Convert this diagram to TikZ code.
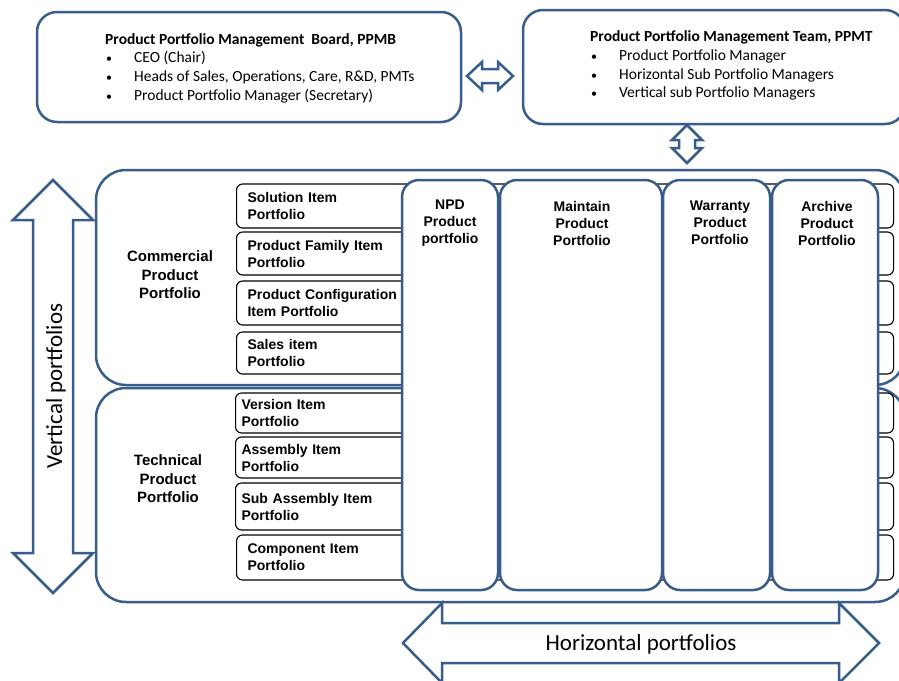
\documentclass[tikz,border=0pt]{standalone}
\usepackage{fontspec}
\setmainfont{Carlito}
\newfontfamily\arialfont{Liberation Sans}
\usetikzlibrary{calc}
\definecolor{pp_blue}{RGB}{56, 93, 138}
\tikzstyle{bb}=[rectangle,rounded corners=20pt,draw=pp_blue,fill=white,
  line width=2.5pt,inner sep=0pt]
\tikzstyle{ob}=[bb,rounded corners=30pt,minimum width=809pt]
\tikzstyle{ib}=[rectangle,rounded corners=6pt,draw=black,fill=white,
  line width=1.1pt,anchor=west,text width=635pt,inner xsep=11pt,inner ysep=0pt,
  align=left,font={\arialfont\bfseries\fontsize{14}{17}\selectfont}]
\tikzstyle{cb}=[bb,rounded corners=17pt,minimum height=410pt]
\tikzstyle{cl}=[align=center,inner sep=0pt,
  font={\arialfont\bfseries\fontsize{14}{17}\selectfont}]
\tikzstyle{gl}=[align=center,inner sep=0pt,
  font={\arialfont\bfseries\fontsize{15}{18.5}\selectfont}]
\tikzstyle{ba}=[draw=pp_blue,fill=white,line width=2.5pt,line join=miter]
\tikzstyle{tx}=[anchor=west,inner sep=0pt,font={\fontsize{15.5}{18.7}\selectfont}]
\newcommand{\bul}{\makebox[29pt][l]{\hspace{1pt}{\fontsize{12}{12}\selectfont•}}}

\begin{document}
\begin{tikzpicture}[x=1pt,y=-1pt]
        \useasboundingbox (0,0) rectangle (899,680);
        \clip (0,0) rectangle (899,680);
        % management boxes
        \node[style=bb,minimum width=424pt,minimum height=110pt] (ppmb) at (249,67) {};
        \node[style=bb,minimum width=382pt,minimum height=114pt] (ppmt) at (714,67) {};
        \node[style=tx] (ppmbt) at (105,68.5) {\begin{tabular}{@{}l@{}}
          \textbf{Product Portfolio Management\ \ Board, PPMB}\\
          \bul CEO (Chair)\\
          \bul Heads of Sales, Operations, Care, R\&D, PMTs\\
          \bul Product Portfolio Manager (Secretary)\end{tabular}};
        \node[style=tx] (ppmtt) at (590,66) {\begin{tabular}{@{}l@{}}
          \textbf{Product Portfolio Management Team, PPMT}\\
          \bul Product Portfolio Manager\\
          \bul Horizontal Sub Portfolio Managers\\
          \bul Vertical sub Portfolio Managers\end{tabular}};
        \draw[style=ba] (467,76) -- (482,62) -- (482,69) -- (498,69) -- (498,62)
          -- (513,76) -- (498,90) -- (498,83) -- (482,83) -- (482,90) -- cycle;
        \draw[style=ba] (687,125) -- (702,140) -- (695,140) -- (695,148) -- (702,148)
          -- (687,163) -- (672,148) -- (679,148) -- (679,140) -- (672,140) -- cycle;
        % vertical portfolios
        \node[style=ob,minimum height=215pt] (com) at (500.5,277.5) {};
        \node[style=ob,minimum height=214pt] (tec) at (500.5,495) {};
        \node[style=gl] (coml) at (170,275) {Commercial\\Product\\Portfolio};
        \node[style=gl] (tecl) at (168,479) {Technical\\Product\\Portfolio};
        \node[style=ib,minimum height=44pt] (sol) at (236,206) {Solution Item\\Portfolio};
        \node[style=ib,minimum height=43pt] (fam) at (236,253.5) {Product Family Item\\Portfolio};
        \node[style=ib,minimum height=44pt] (cfg) at (236,303) {Product Configuration\\Item Portfolio};
        \node[style=ib,minimum height=42pt] (sal) at (236,353) {Sales item\\Portfolio};
        \node[style=ib,minimum height=40pt,inner xsep=6pt,text width=646pt] (ver) at (235,413) {Version Item\\Portfolio};
        \node[style=ib,minimum height=41pt,inner xsep=6pt,text width=646pt] (asm) at (235,457.5) {Assembly Item\\Portfolio};
        \node[style=ib,minimum height=47pt,inner xsep=6pt,text width=646pt] (sub) at (235,506.5) {Sub Assembly Item\\Portfolio};
        \node[style=ib,minimum height=45pt] (cmp) at (236,557.5) {Component Item\\Portfolio};
        % horizontal portfolios
        \node[style=cb,minimum width=96pt] (npd) at (450,385) {};
        \node[style=cb,minimum width=162pt] (mnt) at (581,385) {};
        \node[style=cb,minimum width=107pt] (war) at (716.5,385) {};
        \node[style=cb,minimum width=106pt] (arc) at (825,385) {};
        \node[style=cl] (npdl) at (450,223) {NPD\\Product\\portfolio};
        \node[style=cl] (mntl) at (582,223) {Maintain\\Product\\Portfolio};
        \node[style=cl] (warl) at (720,223) {Warranty\\Product\\Portfolio};
        \node[style=cl] (arcl) at (827,223) {Archive\\Product\\Portfolio};
        % axis arrows
        \draw[style=ba] (53,180) -- (93,220) -- (73,220) -- (73,553) -- (93,553)
          -- (53,593) -- (13,553) -- (33,553) -- (33,220) -- (13,220) -- cycle;
        \draw[style=ba] (403,643) -- (442,603) -- (442,623) -- (839,623) -- (839,603)
          -- (879,643) -- (839,683) -- (839,663) -- (442,663) -- (442,683) -- cycle;
        \node[rotate=90,inner sep=0pt,font={\fontsize{23}{27}\selectfont}] (vp) at (56,386) {Vertical portfolios};
        \node[inner sep=0pt,font={\fontsize{23}{27}\selectfont}] (hp) at (641,644) {Horizontal portfolios};
    \end{tikzpicture}
\end{document}
